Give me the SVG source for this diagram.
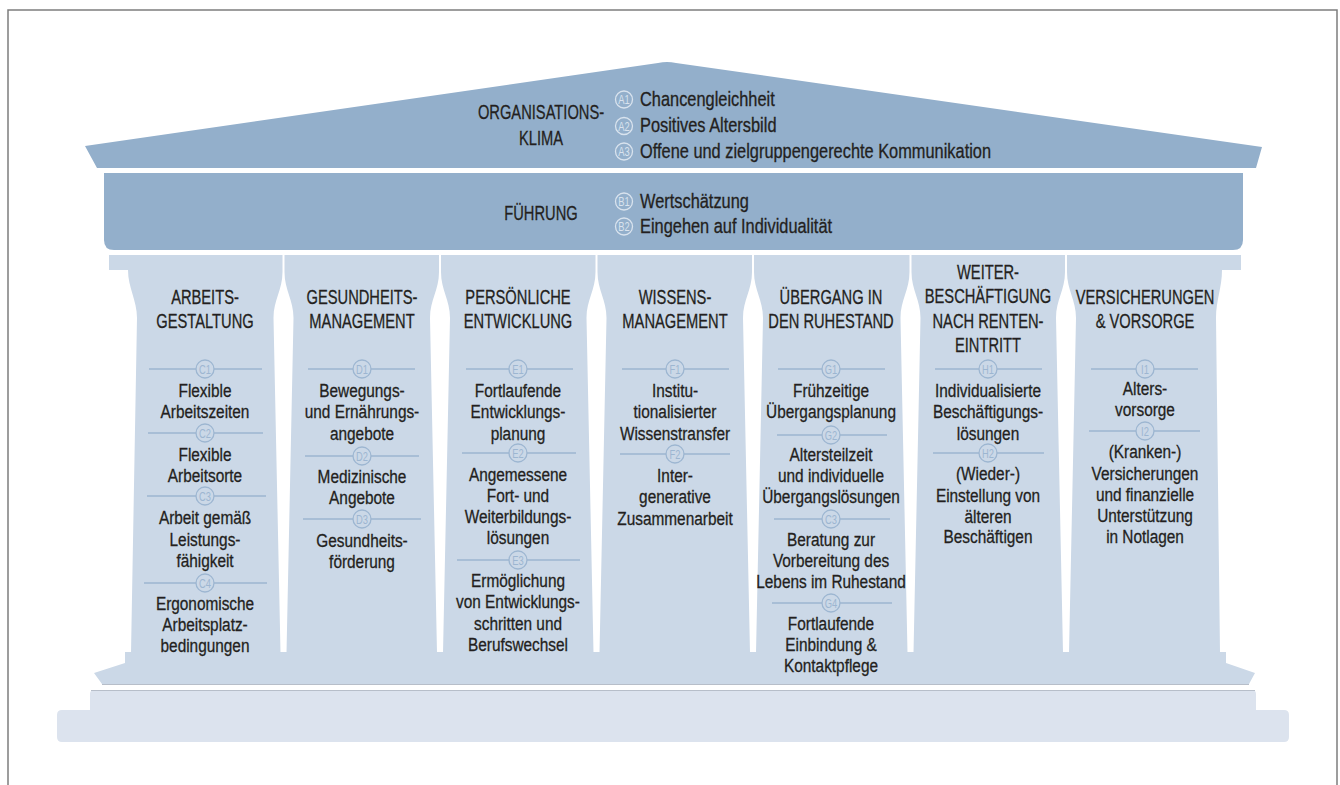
<svg xmlns="http://www.w3.org/2000/svg" width="1340" height="785" viewBox="0 0 1340 785">
<style>
.frame{fill:none;stroke:#7d7d7d;stroke-width:1.5}
.roof{fill:#93afcb}
.col{fill:#cbd8e7}
.base{fill:#dce3ee}
.edge{stroke:#b7bec9;stroke-width:1.2;fill:none}
.sep{stroke:#9db6d1;stroke-width:1.5}
.bc{fill:#cbd8e7;stroke:#9db6d1;stroke-width:1.3}
.bt{font-family:"Liberation Sans",Arial,sans-serif;font-size:13px;fill:#9db6d1;text-anchor:middle}
.rc{fill:none;stroke:#d9e3ee;stroke-width:1.3}
.rt{font-family:"Liberation Sans",Arial,sans-serif;font-size:13px;fill:#d9e3ee;text-anchor:middle}
.h{font-family:"Liberation Sans",Arial,sans-serif;font-size:21px;fill:#231f20;stroke:#231f20;stroke-width:0.3;text-anchor:middle}
.b{font-family:"Liberation Sans",Arial,sans-serif;font-size:19px;fill:#231f20;stroke:#231f20;stroke-width:0.3;text-anchor:middle}
.rb{font-family:"Liberation Sans",Arial,sans-serif;font-size:19.5px;fill:#231f20;stroke:#231f20;stroke-width:0.3;text-anchor:start}
</style>
<rect width="1340" height="785" fill="#ffffff"/>
<path class="frame" d="M8,790 V10 H1337 V790"/>

<g id="roof">
<path class="roof" d="M85,146 L658,63 Q667,61 676,63 L1262,147 L1256,168 L97,168 Z"/>
<g transform="translate(541,0) scale(0.7,1)">
<text class="h" x="0" y="119">ORGANISATIONS-</text>
<text class="h" x="0" y="145">KLIMA</text>
</g>
<g transform="translate(624,99.5)"><circle class="rc" r="8.5"/><text class="rt" transform="scale(0.72,1)" y="4.6">A1</text></g>
<g transform="translate(624,126)"><circle class="rc" r="8.5"/><text class="rt" transform="scale(0.72,1)" y="4.6">A2</text></g>
<g transform="translate(624,151.5)"><circle class="rc" r="8.5"/><text class="rt" transform="scale(0.72,1)" y="4.6">A3</text></g>
<g transform="translate(640,0) scale(0.84,1)">
<text class="rb" x="0" y="106">Chancengleichheit</text>
<text class="rb" x="0" y="132">Positives Altersbild</text>
<text class="rb" x="0" y="158">Offene und zielgruppengerechte Kommunikation</text>
</g>
</g>

<g id="fuehrung">
<path class="roof" d="M104,173 H1243 V240 Q1243,250 1233,250 H114 Q104,250 104,240 Z"/>
<g transform="translate(541,0) scale(0.7,1)">
<text class="h" x="0" y="220">FÜHRUNG</text>
</g>
<g transform="translate(624,201.5)"><circle class="rc" r="8.5"/><text class="rt" transform="scale(0.72,1)" y="4.6">B1</text></g>
<g transform="translate(624,226.5)"><circle class="rc" r="8.5"/><text class="rt" transform="scale(0.72,1)" y="4.6">B2</text></g>
<g transform="translate(640,0) scale(0.84,1)">
<text class="rb" x="0" y="208">Wertschätzung</text>
<text class="rb" x="0" y="233">Eingehen auf Individualität</text>
</g>
</g>

<g id="base">
<path class="base" d="M94,690 H1252 Q1256,690 1256,694 V710 H1284 Q1289,710 1289,715 V737 Q1289,742 1284,742 H62 Q57,742 57,737 V715 Q57,710 62,710 H90 V694 Q90,690 94,690 Z"/>
<path class="edge" d="M91,690.5 H1255"/>
</g>

<g id="plinth">
<path class="col" d="M125,652 H1226 V663 L1255,673 L1249,684 H102 L94,673 L125,663 Z"/>
<path class="edge" d="M102,684.5 H1249"/>
</g>

<g id="col-arbeitsgestaltung">
<path class="col" d="M109,255 H282.5 V272 C282.5,290 273.5,300 273.5,318 L280.5,653 H131 L137,318 C137,300 128,288 128,270 H109 Z"/>
<line class="sep" x1="149" y1="369" x2="262" y2="369"/>
<line class="sep" x1="148" y1="433" x2="263" y2="433"/>
<line class="sep" x1="147" y1="496" x2="266" y2="496"/>
<line class="sep" x1="144" y1="583" x2="267" y2="583"/>
<g transform="translate(205,369)"><circle class="bc" r="9"/><text class="bt" transform="scale(0.72,1)" y="4.6">C1</text></g>
<g transform="translate(205,433)"><circle class="bc" r="9"/><text class="bt" transform="scale(0.72,1)" y="4.6">C2</text></g>
<g transform="translate(205,496)"><circle class="bc" r="9"/><text class="bt" transform="scale(0.72,1)" y="4.6">C3</text></g>
<g transform="translate(205,583)"><circle class="bc" r="9"/><text class="bt" transform="scale(0.72,1)" y="4.6">C4</text></g>
<g transform="translate(205,0) scale(0.7,1)">
<text class="h" x="0" y="304">ARBEITS-</text>
<text class="h" x="0" y="328">GESTALTUNG</text>
</g>
<g transform="translate(205,0) scale(0.81,1)">
<text class="b" x="0" y="397">Flexible</text>
<text class="b" x="0" y="418">Arbeitszeiten</text>
<text class="b" x="0" y="461">Flexible</text>
<text class="b" x="0" y="482">Arbeitsorte</text>
<text class="b" x="0" y="524">Arbeit gemäß</text>
<text class="b" x="0" y="546">Leistungs-</text>
<text class="b" x="0" y="567">fähigkeit</text>
<text class="b" x="0" y="610">Ergonomische</text>
<text class="b" x="0" y="631">Arbeitsplatz-</text>
<text class="b" x="0" y="652">bedingungen</text>
</g>
</g>

<g id="col-gesundheitsmanagement">
<path class="col" d="M284.5,255 H439 V272 C439,290 430,300 430,318 L437,653 H286.5 L293.5,318 C293.5,300 284.5,290 284.5,272 Z"/>
<line class="sep" x1="308" y1="369" x2="415" y2="369"/>
<line class="sep" x1="305" y1="456" x2="419" y2="456"/>
<line class="sep" x1="303" y1="519" x2="421" y2="519"/>
<g transform="translate(362,369)"><circle class="bc" r="9"/><text class="bt" transform="scale(0.72,1)" y="4.6">D1</text></g>
<g transform="translate(362,456)"><circle class="bc" r="9"/><text class="bt" transform="scale(0.72,1)" y="4.6">D2</text></g>
<g transform="translate(362,519)"><circle class="bc" r="9"/><text class="bt" transform="scale(0.72,1)" y="4.6">D3</text></g>
<g transform="translate(362,0) scale(0.7,1)">
<text class="h" x="0" y="304">GESUNDHEITS-</text>
<text class="h" x="0" y="328">MANAGEMENT</text>
</g>
<g transform="translate(362,0) scale(0.81,1)">
<text class="b" x="0" y="397">Bewegungs-</text>
<text class="b" x="0" y="418">und Ernährungs-</text>
<text class="b" x="0" y="440">angebote</text>
<text class="b" x="0" y="483">Medizinische</text>
<text class="b" x="0" y="504">Angebote</text>
<text class="b" x="0" y="547">Gesundheits-</text>
<text class="b" x="0" y="568">förderung</text>
</g>
</g>

<g id="col-persoenliche-entwicklung">
<path class="col" d="M441,255 H595.5 V272 C595.5,290 586.5,300 586.5,318 L593.5,653 H443 L450,318 C450,300 441,290 441,272 Z"/>
<line class="sep" x1="466" y1="369" x2="573" y2="369"/>
<line class="sep" x1="462" y1="453" x2="576" y2="453"/>
<line class="sep" x1="457" y1="560" x2="580" y2="560"/>
<g transform="translate(518,369)"><circle class="bc" r="9"/><text class="bt" transform="scale(0.72,1)" y="4.6">E1</text></g>
<g transform="translate(518,453)"><circle class="bc" r="9"/><text class="bt" transform="scale(0.72,1)" y="4.6">E2</text></g>
<g transform="translate(518,560)"><circle class="bc" r="9"/><text class="bt" transform="scale(0.72,1)" y="4.6">E3</text></g>
<g transform="translate(518,0) scale(0.7,1)">
<text class="h" x="0" y="304">PERSÖNLICHE</text>
<text class="h" x="0" y="328">ENTWICKLUNG</text>
</g>
<g transform="translate(518,0) scale(0.81,1)">
<text class="b" x="0" y="397">Fortlaufende</text>
<text class="b" x="0" y="418">Entwicklungs-</text>
<text class="b" x="0" y="440">planung</text>
<text class="b" x="0" y="481">Angemessene</text>
<text class="b" x="0" y="502">Fort- und</text>
<text class="b" x="0" y="523">Weiterbildungs-</text>
<text class="b" x="0" y="544">lösungen</text>
<text class="b" x="0" y="587">Ermöglichung</text>
<text class="b" x="0" y="608">von Entwicklungs-</text>
<text class="b" x="0" y="630">schritten und</text>
<text class="b" x="0" y="651">Berufswechsel</text>
</g>
</g>

<g id="col-wissensmanagement">
<path class="col" d="M597.5,255 H752 V272 C752,290 743,300 743,318 L750,653 H599.5 L606.5,318 C606.5,300 597.5,290 597.5,272 Z"/>
<line class="sep" x1="622" y1="369" x2="729" y2="369"/>
<line class="sep" x1="620" y1="454" x2="730" y2="454"/>
<g transform="translate(675,369)"><circle class="bc" r="9"/><text class="bt" transform="scale(0.72,1)" y="4.6">F1</text></g>
<g transform="translate(675,454)"><circle class="bc" r="9"/><text class="bt" transform="scale(0.72,1)" y="4.6">F2</text></g>
<g transform="translate(675,0) scale(0.7,1)">
<text class="h" x="0" y="304">WISSENS-</text>
<text class="h" x="0" y="328">MANAGEMENT</text>
</g>
<g transform="translate(675,0) scale(0.81,1)">
<text class="b" x="0" y="397">Institu-</text>
<text class="b" x="0" y="418">tionalisierter</text>
<text class="b" x="0" y="440">Wissenstransfer</text>
<text class="b" x="0" y="482">Inter-</text>
<text class="b" x="0" y="503">generative</text>
<text class="b" x="0" y="525">Zusammenarbeit</text>
</g>
</g>

<g id="col-uebergang-ruhestand">
<path class="col" d="M754,255 H909.5 V272 C909.5,290 900.5,300 900.5,318 L907.5,653 H756 L763,318 C763,300 754,290 754,272 Z"/>
<line class="sep" x1="778" y1="369" x2="885" y2="369"/>
<line class="sep" x1="777" y1="435" x2="887" y2="435"/>
<line class="sep" x1="774" y1="519" x2="890" y2="519"/>
<line class="sep" x1="772" y1="603" x2="892" y2="603"/>
<g transform="translate(831,369)"><circle class="bc" r="9"/><text class="bt" transform="scale(0.72,1)" y="4.6">G1</text></g>
<g transform="translate(831,435)"><circle class="bc" r="9"/><text class="bt" transform="scale(0.72,1)" y="4.6">G2</text></g>
<g transform="translate(831,519)"><circle class="bc" r="9"/><text class="bt" transform="scale(0.72,1)" y="4.6">C3</text></g>
<g transform="translate(831,603)"><circle class="bc" r="9"/><text class="bt" transform="scale(0.72,1)" y="4.6">G4</text></g>
<g transform="translate(831,0) scale(0.7,1)">
<text class="h" x="0" y="304">ÜBERGANG IN</text>
<text class="h" x="0" y="328">DEN RUHESTAND</text>
</g>
<g transform="translate(831,0) scale(0.81,1)">
<text class="b" x="0" y="397">Frühzeitige</text>
<text class="b" x="0" y="418">Übergangsplanung</text>
<text class="b" x="0" y="461">Altersteilzeit</text>
<text class="b" x="0" y="482">und individuelle</text>
<text class="b" x="0" y="503">Übergangslösungen</text>
<text class="b" x="0" y="546">Beratung zur</text>
<text class="b" x="0" y="567">Vorbereitung des</text>
<text class="b" x="0" y="588">Lebens im Ruhestand</text>
<text class="b" x="0" y="630">Fortlaufende</text>
<text class="b" x="0" y="651">Einbindung &amp;</text>
<text class="b" x="0" y="672">Kontaktpflege</text>
</g>
</g>

<g id="col-weiterbeschaeftigung">
<path class="col" d="M911.5,255 H1065 V272 C1065,290 1056,300 1056,318 L1063,653 H913.5 L920.5,318 C920.5,300 911.5,290 911.5,272 Z"/>
<line class="sep" x1="935" y1="369" x2="1042" y2="369"/>
<line class="sep" x1="933" y1="453" x2="1044" y2="453"/>
<g transform="translate(988,369)"><circle class="bc" r="9"/><text class="bt" transform="scale(0.72,1)" y="4.6">H1</text></g>
<g transform="translate(988,453)"><circle class="bc" r="9"/><text class="bt" transform="scale(0.72,1)" y="4.6">H2</text></g>
<g transform="translate(988,0) scale(0.7,1)">
<text class="h" x="0" y="279">WEITER-</text>
<text class="h" x="0" y="303">BESCHÄFTIGUNG</text>
<text class="h" x="0" y="328">NACH RENTEN-</text>
<text class="h" x="0" y="352">EINTRITT</text>
</g>
<g transform="translate(988,0) scale(0.81,1)">
<text class="b" x="0" y="397">Individualisierte</text>
<text class="b" x="0" y="418">Beschäftigungs-</text>
<text class="b" x="0" y="440">lösungen</text>
<text class="b" x="0" y="480">(Wieder-)</text>
<text class="b" x="0" y="502">Einstellung von</text>
<text class="b" x="0" y="523">älteren</text>
<text class="b" x="0" y="543">Beschäftigen</text>
</g>
</g>

<g id="col-versicherungen">
<path class="col" d="M1067,255 H1241 V270 H1222 C1222,288 1216,300 1216,318 L1220,653 H1069 L1076,318 C1076,300 1067,290 1067,272 Z"/>
<line class="sep" x1="1091" y1="369" x2="1198" y2="369"/>
<line class="sep" x1="1089" y1="431" x2="1200" y2="431"/>
<g transform="translate(1145,369)"><circle class="bc" r="9"/><text class="bt" transform="scale(0.72,1)" y="4.6">I1</text></g>
<g transform="translate(1145,431)"><circle class="bc" r="9"/><text class="bt" transform="scale(0.72,1)" y="4.6">I2</text></g>
<g transform="translate(1145,0) scale(0.7,1)">
<text class="h" x="0" y="304">VERSICHERUNGEN</text>
<text class="h" x="0" y="328">&amp; VORSORGE</text>
</g>
<g transform="translate(1145,0) scale(0.81,1)">
<text class="b" x="0" y="395">Alters-</text>
<text class="b" x="0" y="416">vorsorge</text>
<text class="b" x="0" y="458">(Kranken-)</text>
<text class="b" x="0" y="480">Versicherungen</text>
<text class="b" x="0" y="501">und finanzielle</text>
<text class="b" x="0" y="522">Unterstützung</text>
<text class="b" x="0" y="543">in Notlagen</text>
</g>
</g>
</svg>
